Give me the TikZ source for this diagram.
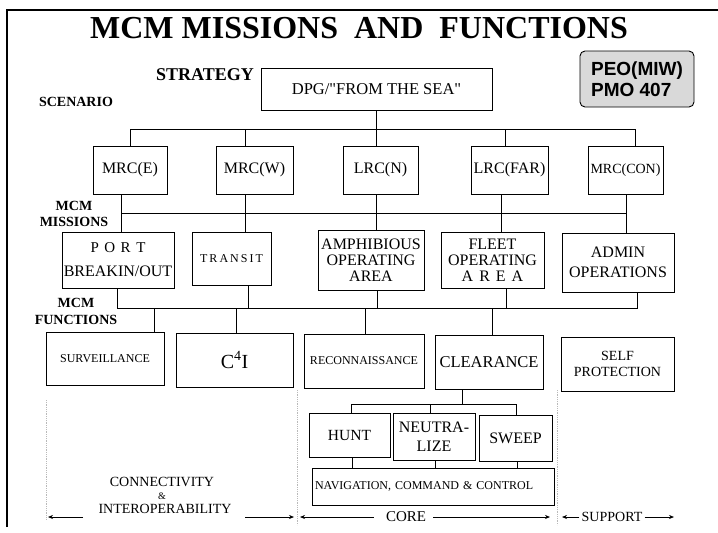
\documentclass[tikz,border=0pt]{standalone}
\usepackage{fontspec}
\setmainfont{Liberation Serif}
\setsansfont{Liberation Sans}
\usetikzlibrary{arrows.meta}

\newcommand{\fsz}[1]{\fontsize{#1}{#1}\selectfont}

\begin{document}
\begin{tikzpicture}[x=1pt,y=-1pt,
    box/.style={draw,line width=1pt,inner sep=0pt,outer sep=0pt,align=center,font=\fsz{16}},
    tag/.style={align=center,font=\bfseries\fontsize{14}{16.5}\selectfont},
    txt/.style={inner sep=0pt,font=\fsz{14}},
    wire/.style={line width=1pt},
    guide/.style={gray!55,densely dotted,line width=0.8pt},
    bnd/.style={-{Stealth[length=5pt,width=4pt]},line width=0.7pt}]
\useasboundingbox (0,0) rectangle (718,533);
\draw[line width=2pt] (7,527) -- (7,10) -- (718,10);

\node[font=\bfseries\fsz{32}] (title) at (359,28.5) {MCM MISSIONS\ \ AND\ \ FUNCTIONS};
\node[draw,rounded corners=5pt,fill=gray!30,line width=0.9pt,minimum width=114,minimum height=56,
      inner sep=0pt,align=left,font=\sffamily\bfseries\fontsize{19}{21}\selectfont] (peo) at (637,79) {PEO(MIW)\\PMO 407};

\node[tag,font=\bfseries\fsz{18}] (strategy) at (205,75) {STRATEGY};
\node[tag] (scenario) at (76,102) {SCENARIO};
\node[box,minimum width=231,minimum height=42,font=\fsz{16.5}] (dpg) at (376.5,89) {DPG/\textquotedbl FROM THE SEA\textquotedbl};

% scenario row
\node[box,minimum width=74,minimum height=48] (mrcE) at (130,170) {MRC(E)};
\node[box,minimum width=77,minimum height=48] (mrcW) at (254.5,170) {MRC(W)};
\node[box,minimum width=75,minimum height=48] (lrcN) at (380.5,170) {LRC(N)};
\node[box,minimum width=77,minimum height=48] (lrcFAR) at (509.5,170) {LRC(FAR)};
\node[box,minimum width=75,minimum height=48,font=\fsz{14}] (mrcCON) at (625.5,170) {MRC(CON)};

% missions row
\node[tag] (missions) at (74,214) {MCM\\MISSIONS};
\node[box,minimum width=112,minimum height=56] (port) at (118,260) {{\fsz{15}\spaceskip=5.5pt P O R T}\\[8pt]BREAKIN/OUT};
\node[box,minimum width=79,minimum height=53,font={\fsz{12}\spaceskip=2pt}] (transit) at (231.5,258.5) {T R A N S I T};
\node[box,minimum width=106,minimum height=60] (amphib) at (371,260) {AMPHIBIOUS\\OPERATING\\AREA};
\node[box,minimum width=103,minimum height=56,font={\fsz{16}\spaceskip=6pt}] (fleet) at (492.5,260) {FLEET\\OPERATING\\A R E A};
\node[box,minimum width=112,minimum height=59] (admin) at (618,262.5) {ADMIN\\[4pt]OPERATIONS};

% functions row
\node[tag] (functions) at (76,311.5) {MCM\\FUNCTIONS};
\node[box,minimum width=118,minimum height=53,font=\fsz{12}] (surv) at (105,358.5) {SURVEILLANCE};
\node[box,minimum width=117,minimum height=54,font=\fsz{20}] (c4i) at (234.5,360) {C\textsuperscript{4}I};
\node[box,minimum width=120,minimum height=54,font=\fsz{12}] (recon) at (364,361) {RECONNAISSANCE};
\node[box,minimum width=108,minimum height=54,font=\fsz{16.5}] (clear) at (489,362) {CLEARANCE};
\node[box,minimum width=113,minimum height=54,font=\fsz{14}] (selfp) at (617.5,364) {SELF\\[2pt]PROTECTION};

\node[box,minimum width=81,minimum height=44,font=\fsz{15.5}] (hunt) at (349.5,435) {HUNT};
\node[box,minimum width=82,minimum height=47] (neut) at (434,436.5) {NEUTRA-\\[3pt]LIZE};
\node[box,minimum width=73,minimum height=46] (sweep) at (515.5,438) {SWEEP};
\node[box,minimum width=242,minimum height=37,text width=236,align=left,font=\fsz{12}] (nav) at (433,486.5) {NAVIGATION, COMMAND \& CONTROL};

% tree
\coordinate (bus1) at (376.5,129);
\draw[wire] (dpg.south) -- (bus1);
\foreach \n/\dx in {mrcE/0,mrcW/-9.5,lrcN/-4,lrcFAR/-4.5,mrcCON/9.5}
  \draw[wire] ([xshift=\dx pt]\n.north) |- (bus1);

\coordinate (bus2w) at (121,213);
\coordinate (bus2e) at (626,213);
\draw[wire] (bus2w) -- (bus2e);
\foreach \a/\b/\dx in {mrcE/port/-9,mrcW/transit/-9.5,lrcN/amphib/-4.5,lrcFAR/fleet/-8.5,mrcCON/admin/0.5}
  \draw[wire] ([xshift=\dx pt]\a.south) |- (\b.north);

\coordinate (bus3) at (117,308);
\foreach \n/\dx in {port/-1,transit/16.5,amphib/6,fleet/13.5,admin/19}
  \draw[wire] ([xshift=\dx pt]\n.south) |- (bus3);
\foreach \n/\dx in {surv/49,c4i/1.5,recon/1,clear/3}
  \draw[wire] ([xshift=\dx pt]\n.north) |- (bus3);

\coordinate (bus4) at (351,404);
\draw[wire] ([xshift=-27pt]clear.south) |- (bus4);
\foreach \n/\dx in {hunt/1.5,neut/-4,sweep/0.5}
  \draw[wire] ([xshift=\dx pt]\n.north) |- (bus4);
\foreach \n/\dx in {hunt/2.5,neut/1,sweep/1.5}
  \draw[wire] ([xshift=\dx pt]\n.south) |- (nav.north);

% bottom scale
\draw[guide] (46,400) -- (46,520);
\draw[guide] (297,390) -- (297,525);
\draw[guide] (557,390) -- (557,525);

\node[txt] (conn) at (162,482) {CONNECTIVITY};
\node[txt,font=\fsz{10}] (amp) at (162,496) {\&};
\node[txt] (interop) at (165,509) {INTEROPERABILITY};
\node[txt,font=\fsz{15}] (core) at (406,517) {CORE};
\node[txt] (support) at (612,517) {SUPPORT};

\coordinate (ci_w) at (48,517);
\coordinate (ci_e) at (294,517);
\coordinate (core_w) at (300,517);
\coordinate (core_e) at (550,517);
\coordinate (sup_w) at (562,517);
\coordinate (sup_e) at (674,517);
\draw[bnd] (83,517) -- (ci_w);
\draw[bnd] (245,517) -- (ci_e);
\draw[bnd,shorten <=12pt] (core.west) -- (core_w);
\draw[bnd,shorten <=7pt] (core.east) -- (core_e);
\draw[bnd,shorten <=2pt] (support.west) -- (sup_w);
\draw[bnd,shorten <=2pt] (support.east) -- (sup_e);
\end{tikzpicture}
\end{document}
